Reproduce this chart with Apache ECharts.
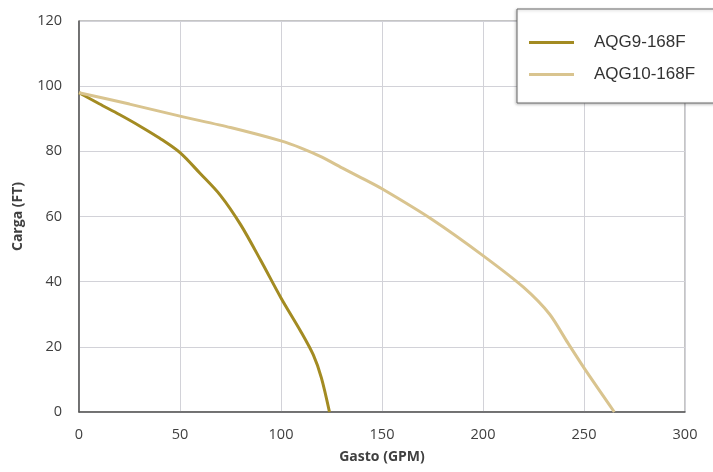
<!DOCTYPE html>
<html>
<head>
<meta charset="utf-8">
<script src="https://cdn.jsdelivr.net/npm/echarts@6/dist/echarts.min.js"></script>
<style>
  html, body { margin: 0; padding: 0; background: #fff; }
  #chart { width: 713px; height: 472px; }
</style>
</head>
<body>
<div id="chart"></div>
<script>
// Pump performance curves: head (FT) versus flow (GPM)
const seriesNames = ['AQG9-168F', 'AQG10-168F'];
const aqg9 = [
  [0, 98], [10, 94.6], [20, 91.3], [30, 87.8], [40, 84], [50, 79.6],
  [60, 73.2], [70, 66.5], [80, 57.5], [90, 46.5], [100, 35],
  [110, 24.5], [116, 17.5], [120, 10.5], [124, 0]
];
const aqg10 = [
  [0, 98], [25, 94.5], [50, 90.8], [75, 87.3], [100, 83.2], [110, 81],
  [120, 78.3], [130, 75], [140, 71.8], [150, 68.5], [175, 59], [200, 48],
  [220, 38.3], [233, 30], [242, 21.2], [251, 12.6], [265, 0]
];
const xTicks = [0, 50, 100, 150, 200, 250, 300];
const yTicks = [0, 20, 40, 60, 80, 100, 120];
const colors = ['#a38b22', '#d9c48f'];

const axisFont = '"Open Sans", "Liberation Sans", sans-serif';
const chart = echarts.init(document.getElementById('chart'));
chart.setOption({
  animation: false,
  grid: {
    left: 79, right: 28, top: 21, bottom: 60,
    show: true, borderColor: '#8a8a8a', borderWidth: 1
  },
  legend: {
    orient: 'vertical',
    left: 517, top: 9,
    data: seriesNames,
    icon: 'rect',
    itemWidth: 45, itemHeight: 3,
    itemGap: 15,
    padding: [25, 60, 20, 12],
    backgroundColor: '#fff',
    borderColor: '#6a6a6a', borderWidth: 1,
    shadowColor: 'rgba(0,0,0,0.25)', shadowBlur: 3, shadowOffsetX: -1, shadowOffsetY: 1,
    textStyle: {
      fontFamily: '"Liberation Sans", Arial, sans-serif',
      fontSize: 17, color: '#333', padding: [0, 0, 0, 15]
    }
  },
  xAxis: {
    type: 'value', min: xTicks[0], max: xTicks[xTicks.length - 1], interval: 50,
    name: 'Gasto (GPM)', nameLocation: 'middle', nameGap: 38,
    nameTextStyle: { fontFamily: axisFont, fontWeight: 'bold', fontSize: 14, color: '#404040' },
    axisLine: { lineStyle: { color: '#555', width: 1.5 } },
    axisTick: { show: false },
    axisLabel: { fontFamily: axisFont, fontSize: 14.5, color: '#404040', margin: 15 },
    splitLine: { lineStyle: { color: '#d2d2d8', width: 1 } }
  },
  yAxis: {
    type: 'value', min: yTicks[0], max: yTicks[yTicks.length - 1], interval: 20,
    name: 'Carga (FT)', nameLocation: 'middle', nameGap: 54, nameRotate: 90,
    nameTextStyle: { fontFamily: axisFont, fontWeight: 'bold', fontSize: 14, color: '#404040' },
    axisLine: { show: true, lineStyle: { color: '#555', width: 1.5 } },
    axisTick: { show: false },
    axisLabel: { fontFamily: axisFont, fontSize: 14.5, color: '#404040', margin: 17 },
    splitLine: { lineStyle: { color: '#d2d2d8', width: 1 } }
  },
  series: [
    {
      name: seriesNames[0], type: 'line', data: aqg9, smooth: 0.3,
      showSymbol: false, lineStyle: { color: colors[0], width: 3 },
      itemStyle: { color: colors[0] }
    },
    {
      name: seriesNames[1], type: 'line', data: aqg10, smooth: 0.25,
      showSymbol: false, lineStyle: { color: colors[1], width: 3 },
      itemStyle: { color: colors[1] }
    }
  ]
});
</script>
</body>
</html>
